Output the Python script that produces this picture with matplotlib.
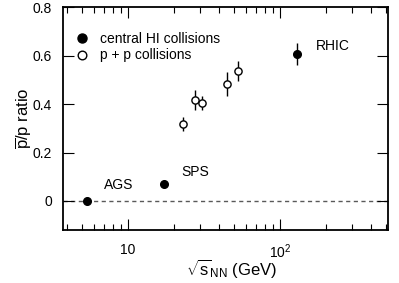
import matplotlib
matplotlib.use("Agg")
import matplotlib.pyplot as plt
from matplotlib.lines import Line2D
from matplotlib.ticker import FixedLocator, FuncFormatter, LogLocator, NullFormatter

plt.rcParams['font.family'] = ['Liberation Sans', 'DejaVu Sans']
plt.rcParams['mathtext.fontset'] = 'custom'
plt.rcParams['mathtext.rm'] = 'Liberation Sans'
plt.rcParams['mathtext.it'] = 'Liberation Sans'

# heavy ion data (AGS, SPS, RHIC)
hi_energy = [5.4, 17.3, 130]
hi_ratio = [0.0, 0.07, 0.605]
hi_err = [0.0, 0.0, 0.045]
hi_labels = ['AGS', 'SPS', 'RHIC']

# p + p data (ISR)
pp_energy = [23.1, 27.5, 30.7, 44.8, 53.0]
pp_ratio = [0.318, 0.416, 0.405, 0.482, 0.536]
pp_err = [0.03, 0.04, 0.03, 0.05, 0.04]

fig = plt.figure(figsize=(3.99, 2.83), dpi=100)
ax = fig.add_axes([0.158, 0.187, 0.814, 0.788])

ax.axhline(0, color='0.35', ls=(0, (3, 2.5)), lw=1, zorder=1)

ax.errorbar(pp_energy, pp_ratio, yerr=pp_err, fmt='o', ms=5.2, mfc='white', mec='black',
            mew=1.0, ecolor='black', elinewidth=1, capsize=0, zorder=3)
ax.errorbar(hi_energy, hi_ratio, yerr=hi_err, fmt='o', ms=5.5, mfc='black', mec='black',
            ecolor='black', elinewidth=1, capsize=0, zorder=4)

label_pos = [(6.95, 0.066), (22.3, 0.12), (172, 0.64)]
for name, (lx, ly) in zip(hi_labels, label_pos):
    ax.text(lx, ly, name, fontsize=10, ha='left', va='center')

ax.set_xscale('log')
ax.set_xlim(3.74, 513)
ax.set_ylim(-0.12, 0.8)
ax.set_yticks([0, 0.2, 0.4, 0.6, 0.8])
ax.yaxis.set_major_formatter(FuncFormatter(lambda v, p: '0' if v == 0 else f'{v:.1f}'))
ax.xaxis.set_major_locator(FixedLocator([10, 100]))
ax.xaxis.set_major_formatter(FuncFormatter(lambda v, p: '10' if v == 10 else r'$\mathregular{10^{2}}$'))
ax.xaxis.set_minor_locator(LogLocator(base=10, subs=range(2, 10)))
ax.xaxis.set_minor_formatter(NullFormatter())

ax.tick_params(which='both', direction='in', top=True, right=True, labelsize=10)
ax.tick_params(axis='y', pad=8)
ax.tick_params(axis='x', pad=9)
ax.tick_params(which='major', length=8, width=0.8)
ax.tick_params(which='minor', length=4, width=0.8)
for s in ax.spines.values():
    s.set_linewidth(1.3)

ax.set_ylabel(r'$\overline{\mathrm{p}}$/p ratio', fontsize=12)
ax.yaxis.set_label_coords(-0.088, 0.5)
ax.set_xlabel(r'$\sqrt{\mathrm{s}}_{\mathrm{NN}}$ (GeV)', fontsize=12)
ax.xaxis.set_label_coords(0.52, -0.12)

handles = [
    Line2D([], [], ls='none', marker='o', ms=6.5, mfc='black', mec='black'),
    Line2D([], [], ls='none', marker='o', ms=6.2, mfc='white', mec='black', mew=1.0),
]
labels = ['central HI collisions', 'p + p collisions']
ax.legend(handles, labels, loc='upper left', bbox_to_anchor=(0.02, 0.915), frameon=False,
          fontsize=10, handletextpad=0.8, borderaxespad=0, labelspacing=0.2, handlelength=1.0)

fig.savefig('out.png', dpi=100)
